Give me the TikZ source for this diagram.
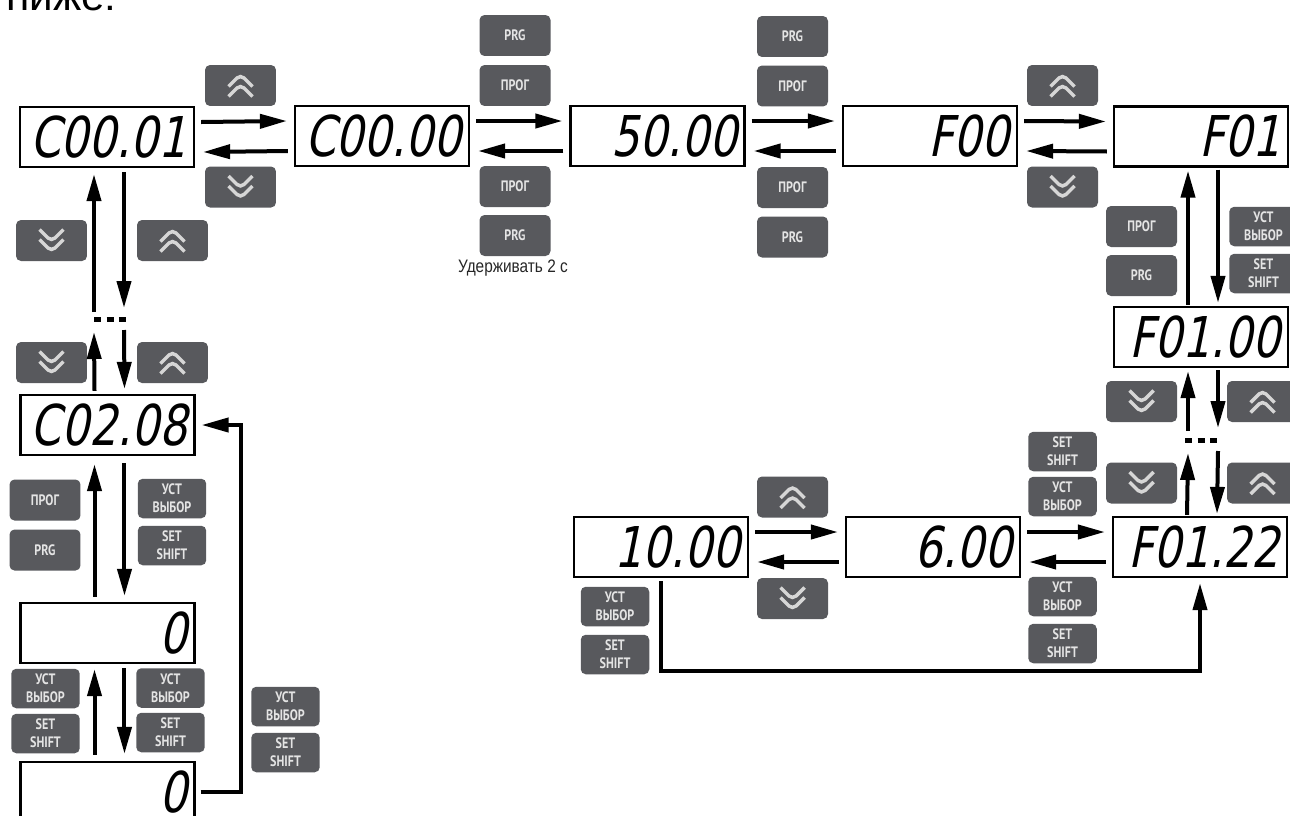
\documentclass[tikz,border=0pt]{standalone}
\usepackage{fontspec}
\setmainfont{Liberation Sans}
\newfontfamily\segfont[FakeStretch=0.78,FakeSlant=0.2]{DejaVu Sans}
\newfontfamily\keyfont[FakeStretch=0.8]{PT Sans}
\newfontfamily\notefont[FakeStretch=0.85]{Liberation Sans}
\usepackage{tikz}
\usetikzlibrary{arrows.meta, calc, positioning}
\definecolor{keygray}{HTML}{58595D}
\definecolor{keytext}{HTML}{E4E4E4}
\definecolor{chevgray}{HTML}{D6D6D6}
\tikzset{
  % Displays
  lcd/.style={draw, line width=0.045cm, fill=white, minimum width=3.48cm, minimum height=1.2cm, inner xsep=0.15cm, inner ysep=0pt, text width=3.18cm, align=right, font=\segfont\fontsize{32}{32}\selectfont},
  % Keys
  keybtn/.style={rectangle, rounded corners=0.1cm, fill=keygray, minimum width=1.42cm, minimum height=0.82cm, inner sep=0pt, text=keytext, align=center, font=\keyfont\bfseries\fontsize{8.6}{10.4}\selectfont},
  keytwo/.style={keybtn, minimum width=1.37cm, minimum height=0.79cm},
  chevron/.style={draw=chevgray, line width=0.07cm},
  keyup/.style={keybtn, path picture={
      \foreach \dy in {-5,5}
        \draw[chevron] ([shift={(-12,{\dy+6})}]path picture bounding box.center) -- ++(12,-12) -- ++(12,12);}},
  keydown/.style={keybtn, path picture={
      \foreach \dy in {-5,5}
        \draw[chevron] ([shift={(-12,{\dy-6})}]path picture bounding box.center) -- ++(12,12) -- ++(12,-12);}},
  % Connectors
  flow/.style={-{Triangle[length=0.54cm, width=0.28cm]}, line width=0.08cm},
  dots/.style={line width=0.1cm, dash pattern=on 0.14cm off 0.11cm}
}

\begin{document}
\begin{tikzpicture}[x=0.02cm, y=-0.02cm]
    \useasboundingbox (0,0) rectangle (1290,815);
    % line of text above, cut by the page edge
    \node[anchor=base west, inner sep=0pt, font=\fontsize{24}{24}\selectfont] (intro) at (6,10) {ниже:};

    % --- Displays ---
    \node[lcd] (c0001) at (107,137) {C00.01};
    \node[lcd] (c0000) at (382,136) {C00.00};
    \node[lcd] (freq) at (657.5,136) {50.00};
    \node[lcd] (f00) at (930,136) {F00};
    \node[lcd] (f01) at (1201,136.5) {F01};
    \node[lcd] (f0100) at (1201,337) {F01.00};
    \node[lcd] (f0122) at (1200,547) {F01.22};
    \node[lcd] (v600) at (933,547) {6.00};
    \node[lcd] (v1000) at (661,547) {10.00};
    \node[lcd] (c0208) at (107.5,425) {C02.08};
    \node[lcd] (val) at (107.5,633) {0};
    \node[lcd] (val2) at (107.5,792) {0};
    \coordinate (dotsL) at (107,319);
    \coordinate (dotsR) at (1201,440);

    % --- Keys, top row ---
    \node[keyup] (kUpA) at (240.5,85.5) {};
    \node[keydown] (kDnA) at (240.5,187) {};
    \node[keybtn] (kPrgA) at (515,35.5) {PRG};
    \node[keybtn] (kProgA) at (515,85.5) {ПРОГ};
    \node[keybtn] (kProgB) at (515,186.5) {ПРОГ};
    \node[keybtn] (kPrgB) at (515,235.5) {PRG};
    \node[font=\notefont\fontsize{10.3}{12}\selectfont, text=black!85] (hold) at (513,268) {Удерживать 2 с};
    \node[keybtn] (kPrgC) at (792.5,36.5) {PRG};
    \node[keybtn] (kProgC) at (792.5,86) {ПРОГ};
    \node[keybtn] (kProgD) at (792.5,187.5) {ПРОГ};
    \node[keybtn] (kPrgD) at (792.5,237) {PRG};
    \node[keyup] (kUpB) at (1062.5,85.5) {};
    \node[keydown] (kDnB) at (1062.5,187) {};

    % --- Keys, left column ---
    \node[keydown] (kDnC) at (51.5,240.5) {};
    \node[keyup] (kUpC) at (172.5,240.5) {};
    \node[keydown] (kDnD) at (51.5,362.5) {};
    \node[keyup] (kUpD) at (172.5,362.5) {};
    \node[keybtn] (kProgE) at (45,500) {ПРОГ};
    \node[keybtn] (kPrgE) at (45,550) {PRG};
    \node[keytwo] (kSelA) at (172,498.5) {УСТ\\ВЫБОР};
    \node[keytwo] (kSetA) at (172,545.5) {SET\\SHIFT};
    \node[keytwo] (kSelB) at (45.5,688.5) {УСТ\\ВЫБОР};
    \node[keytwo] (kSetB) at (45.5,733.5) {SET\\SHIFT};
    \node[keytwo] (kSelC) at (170.5,688) {УСТ\\ВЫБОР};
    \node[keytwo] (kSetC) at (170.5,732.5) {SET\\SHIFT};
    \node[keytwo] (kSelD) at (285.5,706.5) {УСТ\\ВЫБОР};
    \node[keytwo] (kSetD) at (285.5,752.5) {SET\\SHIFT};

    % --- Keys, right column ---
    \node[keybtn] (kProgF) at (1141.5,226.5) {ПРОГ};
    \node[keybtn] (kPrgF) at (1141.5,275.5) {PRG};
    \node[keytwo] (kSelE) at (1263.5,226.5) {УСТ\\ВЫБОР};
    \node[keytwo] (kSetE) at (1263.5,273.5) {SET\\SHIFT};
    \node[keydown] (kDnE) at (1141.5,401.5) {};
    \node[keyup] (kUpE) at (1262.5,401.5) {};
    \node[keydown] (kDnF) at (1141.5,483) {};
    \node[keyup] (kUpF) at (1262.5,483) {};

    % --- Keys, bottom row ---
    \node[keytwo] (kSetF) at (1062.5,451.5) {SET\\SHIFT};
    \node[keytwo] (kSelF) at (1062.5,496.5) {УСТ\\ВЫБОР};
    \node[keytwo] (kSelG) at (1062.5,596.5) {УСТ\\ВЫБОР};
    \node[keytwo] (kSetG) at (1062.5,643.5) {SET\\SHIFT};
    \node[keyup] (kUpG) at (792.5,497) {};
    \node[keydown] (kDnG) at (792.5,598.5) {};
    \node[keytwo] (kSelH) at (615,606.5) {УСТ\\ВЫБОР};
    \node[keytwo] (kSetH) at (615,654.5) {SET\\SHIFT};

    % --- Horizontal arrows ---
    \draw[flow] ([xshift=0.12cm, yshift=0.3cm]c0001.east) -- ([xshift=-0.14cm, yshift=0.3cm]c0000.west);
    \draw[flow] ([xshift=-0.12cm, yshift=-0.3cm]c0000.west) -- ([xshift=0.16cm, yshift=-0.3cm]c0001.east);
    \draw[flow] ([xshift=0.12cm, yshift=0.3cm]c0000.east) -- ([xshift=-0.14cm, yshift=0.3cm]freq.west);
    \draw[flow] ([xshift=-0.12cm, yshift=-0.3cm]freq.west) -- ([xshift=0.16cm, yshift=-0.3cm]c0000.east);
    \draw[flow] ([xshift=0.12cm, yshift=0.3cm]freq.east) -- ([xshift=-0.14cm, yshift=0.3cm]f00.west);
    \draw[flow] ([xshift=-0.12cm, yshift=-0.3cm]f00.west) -- ([xshift=0.16cm, yshift=-0.3cm]freq.east);
    \draw[flow] ([xshift=0.12cm, yshift=0.3cm]f00.east) -- ([xshift=-0.14cm, yshift=0.3cm]f01.west);
    \draw[flow] ([xshift=-0.12cm, yshift=-0.3cm]f01.west) -- ([xshift=0.16cm, yshift=-0.3cm]f00.east);
    \draw[flow] ([xshift=0.12cm, yshift=0.3cm]v1000.east) -- ([xshift=-0.14cm, yshift=0.3cm]v600.west);
    \draw[flow] ([xshift=-0.12cm, yshift=-0.3cm]v600.west) -- ([xshift=0.16cm, yshift=-0.3cm]v1000.east);
    \draw[flow] ([xshift=0.12cm, yshift=0.3cm]v600.east) -- ([xshift=-0.14cm, yshift=0.3cm]f0122.west);
    \draw[flow] ([xshift=-0.12cm, yshift=-0.3cm]f0122.west) -- ([xshift=0.16cm, yshift=-0.3cm]v600.east);

    % --- Vertical arrows, left column ---
    \draw[flow] ([xshift=-0.26cm, yshift=0.14cm]dotsL) -- ([xshift=-0.26cm, yshift=-0.12cm]c0001.south);
    \draw[flow] ([xshift=0.34cm, yshift=-0.08cm]c0001.south) -- ([xshift=0.34cm, yshift=0.22cm]dotsL);
    \draw[dots] ([xshift=-0.26cm]dotsL) -- ([xshift=0.38cm]dotsL);
    \draw[flow] ([xshift=-0.26cm, yshift=0.06cm]c0208.north) -- ([xshift=-0.26cm, yshift=-0.26cm]dotsL);
    \draw[flow] ([xshift=0.34cm, yshift=-0.22cm]dotsL) -- ([xshift=0.34cm, yshift=0.1cm]c0208.north);
    \draw[flow] ([xshift=-0.26cm, yshift=0.1cm]val.north) -- ([xshift=-0.26cm, yshift=-0.16cm]c0208.south);
    \draw[flow] ([xshift=0.34cm, yshift=-0.14cm]c0208.south) -- ([xshift=0.34cm, yshift=0.12cm]val.north);
    \draw[flow] ([xshift=-0.26cm, yshift=0.12cm]val2.north) -- ([xshift=-0.26cm, yshift=-0.1cm]val.south);
    \draw[flow] ([xshift=0.34cm, yshift=-0.08cm]val.south) -- ([xshift=0.34cm, yshift=0.14cm]val2.north);
    % back to C02.08
    \draw[flow] ([xshift=0.1cm]val2.east) -| ([xshift=0.9cm]c0208.east) -- ([xshift=0.12cm]c0208.east);

    % --- Vertical arrows, right column ---
    \draw[flow] ([xshift=-0.26cm, yshift=0.02cm]f0100.north) -- ([xshift=-0.26cm, yshift=-0.06cm]f01.south);
    \draw[flow] ([xshift=0.34cm, yshift=-0.04cm]f01.south) -- ([xshift=0.34cm, yshift=0.06cm]f0100.north);
    \draw[flow] ([xshift=-0.26cm, yshift=0.18cm]dotsR) -- ([xshift=-0.26cm, yshift=-0.06cm]f0100.south);
    \draw[flow] ([xshift=0.34cm, yshift=-0.04cm]f0100.south) -- ([xshift=0.34cm, yshift=0.24cm]dotsR);
    \draw[dots] ([xshift=-0.32cm]dotsR) -- ([xshift=0.32cm]dotsR);
    \draw[flow] ([xshift=-0.26cm, yshift=0.02cm]f0122.north) -- ([xshift=-0.26cm, yshift=-0.26cm]dotsR);
    \draw[flow] ([xshift=0.34cm, yshift=-0.22cm]dotsR) -- ([xshift=0.34cm, yshift=0.04cm]f0122.north);
    % 10.00 back to F01.22
    \draw[flow] ([yshift=-0.06cm]v1000.south) -- ++(0,90) -| ([yshift=-0.1cm]f0122.south);
\end{tikzpicture}
\end{document}
